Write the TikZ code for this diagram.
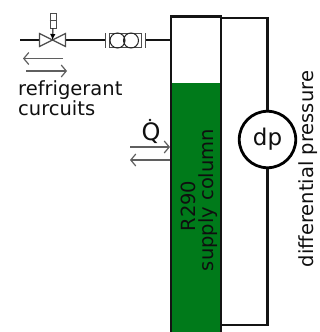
\documentclass[tikz,border=0pt]{standalone}
\usepackage{fontspec}
\setmainfont{DejaVu Sans}
\usetikzlibrary{arrows.meta}
\definecolor{columngreen}{RGB}{0,122,26}
\definecolor{txtc}{RGB}{15,15,15}
\definecolor{arrowgray}{RGB}{95,95,95}
\tikzset{
  pipe/.style={line width=2.8pt,black!92},
  thin part/.style={line width=1.2pt,black!70},
  flow/.style={line width=1.2pt,arrowgray,-{Straight Barb[length=5pt,width=12pt,line width=1.2pt]}},
  label/.style={inner sep=0pt,text=txtc,font=\fontsize{19.5}{23}\selectfont},
}
\begin{document}
\begin{tikzpicture}[x=1pt,y=-1pt]
\useasboundingbox (0,0) rectangle (320,332);
% column
\fill[columngreen] (171,83) rectangle (221,332);
\draw[pipe] (171,333) -- (171,16.5) -- (221,16.5) -- (221,333);
% differential pressure loop
\node[circle,draw=black,line width=2.8pt,fill=white,minimum size=56.5pt,inner sep=0pt,label,font=\fontsize{23}{27}\selectfont] (dp) at (267.5,139.5) {dp};
\coordinate (topport) at (221,18);
\coordinate (botport) at (221,325);
\draw[pipe] (topport) -| (dp.north);
\draw[pipe] (botport) -| (dp.south);
% valve
\coordinate (valve) at (52.5,40);
\coordinate (pipeL) at (20,40);
\coordinate (colport) at (171,40);
\node[draw=black!70,line width=1pt,minimum width=32pt,minimum height=14pt,inner sep=0pt] (filter) at (125.5,40.5) {};
\draw[pipe] (pipeL) -- (39,40);
\draw[pipe] (66,40) -- (105,40);
\draw[pipe] (146,40) -- (colport);
\draw[thin part,fill=white] (39.5,33.5) -- (39.5,46.5) -- (65.5,33.5) -- (65.5,46.5) -- cycle;
\node[draw=black!70,line width=1pt,minimum width=6pt,minimum height=15pt,inner sep=0pt] (act) at (53,20.5) {};
\draw[thin part] (act.west) -- (act.east);
\draw[line width=1pt,black,-{Latex[length=6pt,width=5.5pt]}] (act.south) -- (valve);
% filter
\draw[thin part] (105.7,33) -- (105.7,48) (145.7,33) -- (145.7,48);
\draw[line width=1pt,black!85] (117.5,40.5) circle (7.5pt) (131,40.5) circle (7.5pt);
% flow arrows
\coordinate (a1s) at (63,58.5); \coordinate (a1e) at (23,58.5);
\coordinate (a2s) at (26,71); \coordinate (a2e) at (67,71);
\draw[flow] (a1s) -- (a1e);
\draw[flow] (a2s) -- (a2e);
\coordinate (q1s) at (130,147); \coordinate (q1e) at (170,147);
\coordinate (q2s) at (170,160); \coordinate (q2e) at (130,160);
\draw[flow] (q1s) -- (q1e);
\draw[flow] (q2s) -- (q2e);
% labels
\node[label,anchor=base west] (t1) at (18,95) {refrigerant};
\node[label,anchor=base west] (t2) at (18,115) {curcuits};
\node[label,anchor=base,font=\fontsize{24}{28}\selectfont] (q) at (151,140) {Q};
\fill[txtc] (150,120) circle (1.3pt);
\node[label,rotate=90,anchor=base] (t3) at (195,206) {R290};
\node[label,rotate=90,anchor=base] (t4) at (213,200) {supply column};
\node[label,rotate=90,anchor=base] (t5) at (313,169) {differential pressure};
\end{tikzpicture}
\end{document}
